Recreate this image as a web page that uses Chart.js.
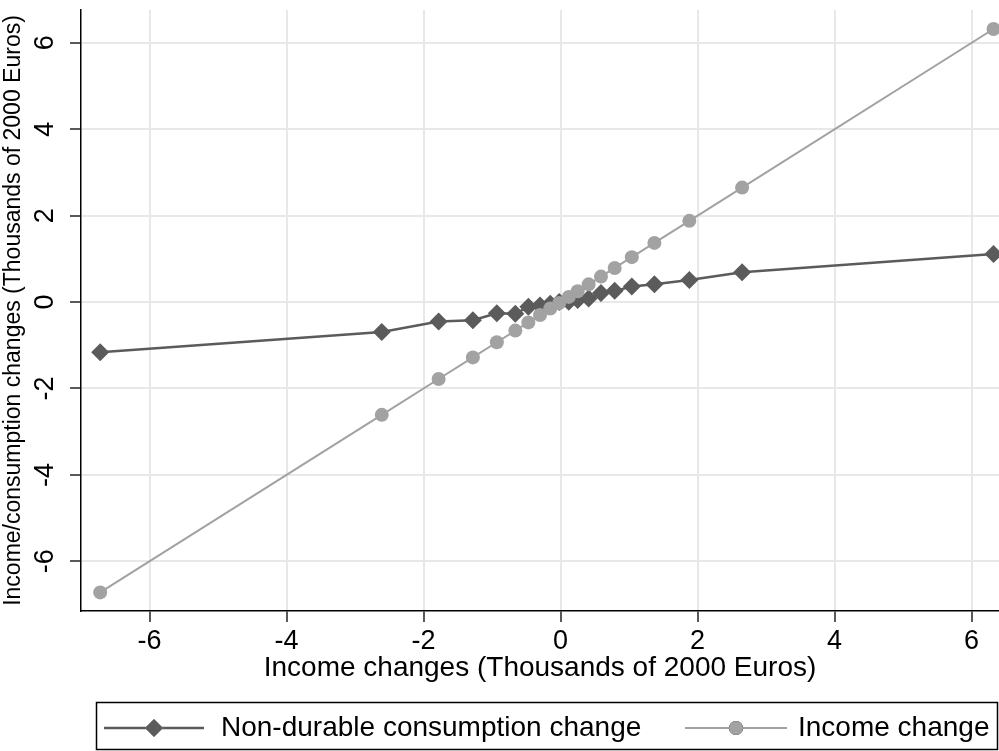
<!DOCTYPE html>
<html>
<head>
<meta charset="utf-8">
<script src="https://cdn.jsdelivr.net/npm/chart.js@4.4.1/dist/chart.umd.min.js"></script>
<style>
  html, body { margin: 0; padding: 0; background: #fff; }
  #wrap { width: 999px; height: 751px; position: relative; }
</style>
</head>
<body>
<div id="wrap"><canvas id="chart"></canvas></div>
<script>
// --- Data ---
const incomeChange = [-6.72, -2.61, -1.78, -1.28, -0.93, -0.66, -0.47, -0.30, -0.15, -0.02,
                      0.12, 0.25, 0.41, 0.59, 0.79, 1.04, 1.37, 1.88, 2.65, 6.32];
const consumptionChange = [-1.16, -0.69, -0.45, -0.42, -0.26, -0.27, -0.11, -0.08, -0.04, 0.00,
                           0.01, 0.05, 0.08, 0.21, 0.26, 0.36, 0.41, 0.51, 0.69, 1.11];
const xTicks = [-6, -4, -2, 0, 2, 4, 6];
const yTicks = [-6, -4, -2, 0, 2, 4, 6];
const seriesLabels = ['Non-durable consumption change', 'Income change'];

const FONT = '"Liberation Sans", Arial, Helvetica, sans-serif';
const DARK = '#5b5b5b';
const LIGHT = '#a2a2a2';

Chart.defaults.font.family = FONT;
Chart.defaults.color = '#000';

// --- Plugins ---
// Stata-style y tick labels, rotated to read bottom-to-top
const yTickLabels = {
    id: 'yTickLabels',
    afterDraw(chart) {
        const s = chart.scales.y;
        const ctx = chart.ctx;
        ctx.save();
        ctx.fillStyle = '#000';
        ctx.font = '27px ' + FONT;
        ctx.textAlign = 'center';
        ctx.textBaseline = 'middle';
        yTicks.forEach(v => {
            ctx.save();
            ctx.translate(46, s.getPixelForValue(v));
            ctx.rotate(-Math.PI / 2);
            ctx.fillText(String(v), 0, 0);
            ctx.restore();
        });
        ctx.restore();
    }
};

// boxed legend with line + marker samples
const boxLegend = {
    id: 'boxLegend',
    afterDraw(chart) {
        const ctx = chart.ctx;
        const slots = [
            { from: 104, to: 204, text: 221 },
            { from: 685, to: 787, text: 798 }
        ];
        const cy = 728;
        ctx.save();
        ctx.strokeStyle = '#000';
        ctx.lineWidth = 1.5;
        ctx.strokeRect(96.5, 702.5, 901, 47);

        chart.data.datasets.forEach((ds, i) => {
            const slot = slots[i];
            ctx.strokeStyle = ds.borderColor;
            ctx.lineWidth = ds.borderWidth;
            ctx.beginPath();
            ctx.moveTo(slot.from, cy);
            ctx.lineTo(slot.to, cy);
            ctx.stroke();
            Chart.helpers.drawPoint(ctx, {
                pointStyle: ds.pointStyle,
                radius: ds.pointRadius,
                borderWidth: 0,
                rotation: 0
            }, (slot.from + slot.to) / 2, cy);
            ctx.fillStyle = ds.backgroundColor;
            ctx.fill();
            ctx.fillStyle = '#000';
            ctx.font = '28px ' + FONT;
            ctx.textAlign = 'left';
            ctx.textBaseline = 'middle';
            ctx.fillText(ds.label, slot.text, cy);
        });
        ctx.restore();
    }
};

// --- Chart ---
const ctx = document.getElementById('chart');

new Chart(ctx, {
    type: 'scatter',
    data: {
        datasets: [
            {
                label: seriesLabels[0],
                data: incomeChange.map((x, i) => ({ x: x, y: consumptionChange[i] })),
                showLine: true,
                borderColor: DARK,
                backgroundColor: DARK,
                borderWidth: 2.5,
                pointStyle: 'rectRot',
                pointRadius: 9,
                pointBorderWidth: 0,
                order: 1
            },
            {
                label: seriesLabels[1],
                data: incomeChange.map(x => ({ x: x, y: x })),
                showLine: true,
                borderColor: LIGHT,
                backgroundColor: LIGHT,
                borderWidth: 2,
                pointStyle: 'circle',
                pointRadius: 7,
                pointBorderWidth: 0,
                order: 0
            }
        ]
    },
    options: {
        responsive: true,
        maintainAspectRatio: false,
        animation: false,
        devicePixelRatio: 1,
        clip: false,
        // no extra room for the point markers, so the plot runs to the right edge
        layout: { autoPadding: false, padding: { left: 0, right: 0, top: 10, bottom: 48 } },
        plugins: {
            legend: { display: false },
            tooltip: { enabled: false }
        },
        scales: {
            x: {
                type: 'linear',
                min: -7,
                max: 6.40,
                afterBuildTicks: s => { s.ticks = xTicks.map(v => ({ value: v })); },
                afterFit: s => {
                    s.height = 92;
                    s.paddingLeft = 0;
                    s.paddingRight = 0;
                },
                grid: { color: '#e8e8e8', lineWidth: 2, tickColor: '#000', tickLength: 11, tickWidth: 1.3 },
                border: { color: '#000', width: 1.5 },
                ticks: { color: '#000', font: { size: 27 }, padding: 3, maxRotation: 0 },
                title: {
                    display: true,
                    text: 'Income changes (Thousands of 2000 Euros)',
                    color: '#000',
                    font: { size: 28 },
                    padding: { top: 0, bottom: 18 }
                }
            },
            y: {
                type: 'linear',
                min: -7.15,
                max: 6.76,
                afterBuildTicks: s => { s.ticks = yTicks.map(v => ({ value: v })); },
                afterFit: s => {
                    s.width = 81;
                    s.paddingTop = 0;
                    s.paddingBottom = 0;
                },
                grid: { color: '#e8e8e8', lineWidth: 2, tickColor: '#000', tickLength: 11, tickWidth: 1.3 },
                border: { color: '#000', width: 1.5 },
                ticks: { display: false },
                title: {
                    display: true,
                    text: 'Income/consumption changes (Thousands of 2000 Euros)',
                    color: '#000',
                    font: { size: 23 },
                    padding: { top: 0, bottom: 0 }
                }
            }
        }
    },
    plugins: [yTickLabels, boxLegend]
});
</script>
</body>
</html>
